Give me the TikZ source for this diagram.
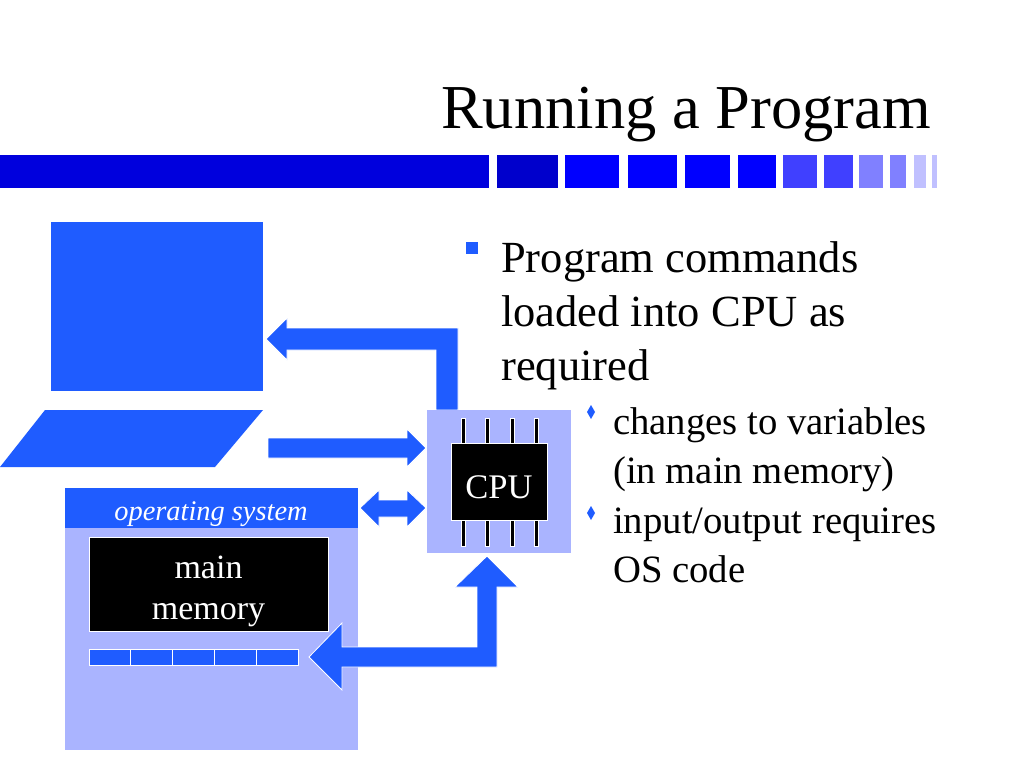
\documentclass[tikz,border=0pt]{standalone}
\usepackage{fontspec}
\setmainfont{Liberation Serif}
\definecolor{bb}{HTML}{1F5CFF}
\definecolor{lb}{HTML}{AAB4FF}
\begin{document}
\begin{tikzpicture}[x=1pt,y=-1pt,
  blk/.style={fill=bb,draw=white,line width=0.8pt},
  pin/.style={fill=black,draw=white,line width=0.6pt}]
\useasboundingbox (0,0) rectangle (1024,768);
\fill[white] (0,0) rectangle (1024,768);
% title
\node[anchor=base east,inner sep=0,font=\fontsize{62.5}{62.5}\selectfont] (title) at (931,128) {Running a Program};
% bar
\foreach \a/\b/\c in {0/489/0000DD,497/558/0000CC,565/619/0000FF,628/677/0000FF,685/730/0000FF,738/776/0000FF,783/817/4040FF,824/853/4040FF,859/883/8080FF,890/906/8080FF,914/926/C0C0FF,932/937/C0C0FF}
  {\definecolor{segc}{HTML}{\c}\fill[segc] (\a,155) rectangle (\b,188);}
% monitor & keyboard
\fill[bb] (51,222) rectangle (263,391);
\fill[bb] (45,410) -- (263,410) -- (215,467) -- (0,467) -- cycle;
% OS
\fill[lb] (65,528) rectangle (358,750);
\fill[bb] (65,488) rectangle (358,528);
\node[text=white,font=\fontsize{28.4}{28.4}\selectfont\itshape] (os) at (211,514) {operating system};
\node[draw=white,fill=black,minimum width=239pt,minimum height=94pt,inner sep=0] (mem) at (208.5,584) {};
\node[text=white,align=center,font=\fontsize{34}{41}\selectfont] (memt) at (208.5,591) {main\\memory};
\foreach \i in {0,...,4}
  \filldraw[blk] (89+\i*41.8,649) rectangle (89+\i*41.8+41.8,665);
% arrows
\filldraw[blk] (436,410) -- (436,350) -- (287,350) -- (287,360) -- (266,339) -- (287,318) -- (287,328) -- (458,328) -- (458,410) -- cycle;
\filldraw[blk] (268,438) -- (407,438) -- (407,429) -- (426,448) -- (407,467) -- (407,458) -- (268,458) -- cycle;
\filldraw[blk] (360,508) -- (379,490) -- (379,500) -- (407,500) -- (407,490) -- (426,508) -- (407,527) -- (407,517) -- (379,517) -- (379,527) -- cycle;
\filldraw[blk] (487,556) -- (518,587) -- (497,587) -- (497,667) -- (342,667) -- (342,690) -- (309,657) -- (342,623) -- (342,647) -- (477,647) -- (477,587) -- (455,587) -- cycle;
% CPU
\fill[lb] (427,410) rectangle (571,553);
\foreach \x in {463,487,512,536} {
  \filldraw[pin] (\x-2,418) rectangle (\x+2,445);
  \filldraw[pin] (\x-2,518) rectangle (\x+2,546);
}
\node[draw=white,fill=black,minimum width=96pt,minimum height=77pt,inner sep=0] (cpu) at (499,481.5) {};
\node[text=white,font=\fontsize{34.5}{34.5}\selectfont] (cput) at (499,487) {CPU};
% text
\fill[bb] (466,242) rectangle (478,254);
\node[anchor=base west,inner sep=0,font=\fontsize{44.5}{54}\selectfont,align=left] (t1) at (501,380) {Program commands\\loaded into CPU as\\required};
\foreach \y in {412,513}
  \fill[bb] (591,\y-7) -- (595,\y) -- (591,\y+7) -- (587,\y) -- cycle;
\node[anchor=base west,inner sep=0,font=\fontsize{38.7}{49}\selectfont,align=left] (t2) at (613,483) {changes to variables\\(in main memory)};
\node[anchor=base west,inner sep=0,font=\fontsize{38.7}{49}\selectfont,align=left] (t3) at (613,582) {input/output requires\\OS code};
\end{tikzpicture}
\end{document}
